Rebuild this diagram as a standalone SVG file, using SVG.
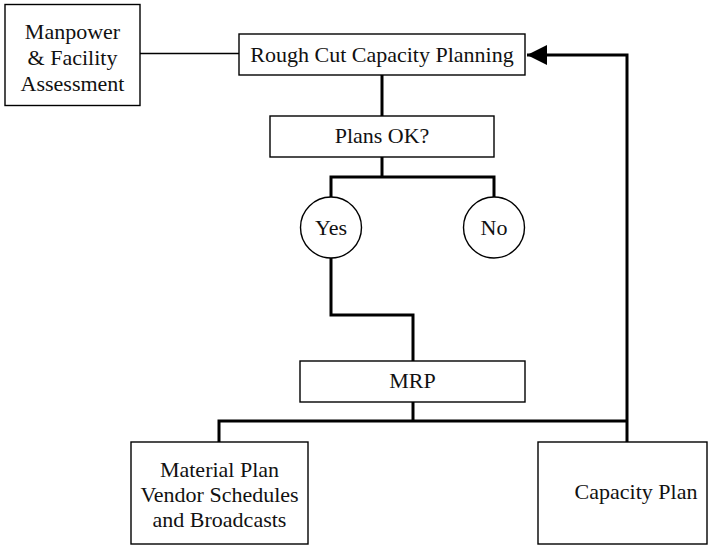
<svg xmlns="http://www.w3.org/2000/svg" width="708" height="545" viewBox="0 0 708 545">
  <style>
    .box { fill: #ffffff; stroke: #000000; stroke-width: 1.4; }
    .lbl { font-family: "Liberation Serif", "DejaVu Serif", serif; font-size: 22px; fill: #111111; text-anchor: middle; }
    .wire { fill: none; stroke: #000000; stroke-width: 3; }
    .thin { fill: none; stroke: #000000; stroke-width: 1.4; }
  </style>
  <defs>
    <marker id="arrow" markerUnits="userSpaceOnUse" markerWidth="22" markerHeight="22" refX="20" refY="11" orient="auto">
      <path d="M0,1 L20,11 L0,21 Z" fill="#000000"/>
    </marker>
  </defs>
  <rect width="708" height="545" fill="#ffffff"/>

  <g id="connectors">
    <line class="thin" x1="140" y1="53.5" x2="239" y2="53.5"/>
    <line class="wire" x1="382" y1="75" x2="382" y2="116"/>
    <polyline class="wire" points="382,157 382,177"/>
    <polyline class="wire" points="331,197 331,177 494,177 494,197"/>
    <polyline class="wire" points="331,258 331,315 413,315 413,361"/>
    <line class="wire" x1="413" y1="402" x2="413" y2="421"/>
    <polyline class="wire" points="219,442 219,421 627,421"/>
    <polyline class="wire" points="627,442 627,55 527,55" marker-end="url(#arrow)"/>
  </g>

  <g id="manpower">
    <rect class="box" x="5" y="4.5" width="135" height="101"/>
    <text class="lbl" x="72.5" y="39">Manpower</text>
    <text class="lbl" x="72.5" y="65">&amp; Facility</text>
    <text class="lbl" x="72.5" y="91">Assessment</text>
  </g>

  <g id="rough-cut">
    <rect class="box" x="239" y="34" width="286" height="41"/>
    <text class="lbl" x="382" y="62">Rough Cut Capacity Planning</text>
  </g>

  <g id="plans-ok">
    <rect class="box" x="270" y="116" width="224" height="41"/>
    <text class="lbl" x="382" y="143">Plans OK?</text>
  </g>

  <g id="yes">
    <circle class="box" cx="331" cy="227.5" r="30.5"/>
    <text class="lbl" x="331" y="235">Yes</text>
  </g>

  <g id="no">
    <circle class="box" cx="494" cy="227.5" r="30.5"/>
    <text class="lbl" x="494" y="235">No</text>
  </g>

  <g id="mrp">
    <rect class="box" x="300" y="361" width="225" height="41"/>
    <text class="lbl" x="412.5" y="388">MRP</text>
  </g>

  <g id="material-plan">
    <rect class="box" x="131" y="442" width="177" height="102"/>
    <text class="lbl" x="219.5" y="477">Material Plan</text>
    <text class="lbl" x="219.5" y="502">Vendor Schedules</text>
    <text class="lbl" x="219.5" y="527">and Broadcasts</text>
  </g>

  <g id="capacity-plan">
    <rect class="box" x="538" y="442" width="169" height="102"/>
    <text class="lbl" x="636" y="499">Capacity Plan</text>
  </g>
</svg>
